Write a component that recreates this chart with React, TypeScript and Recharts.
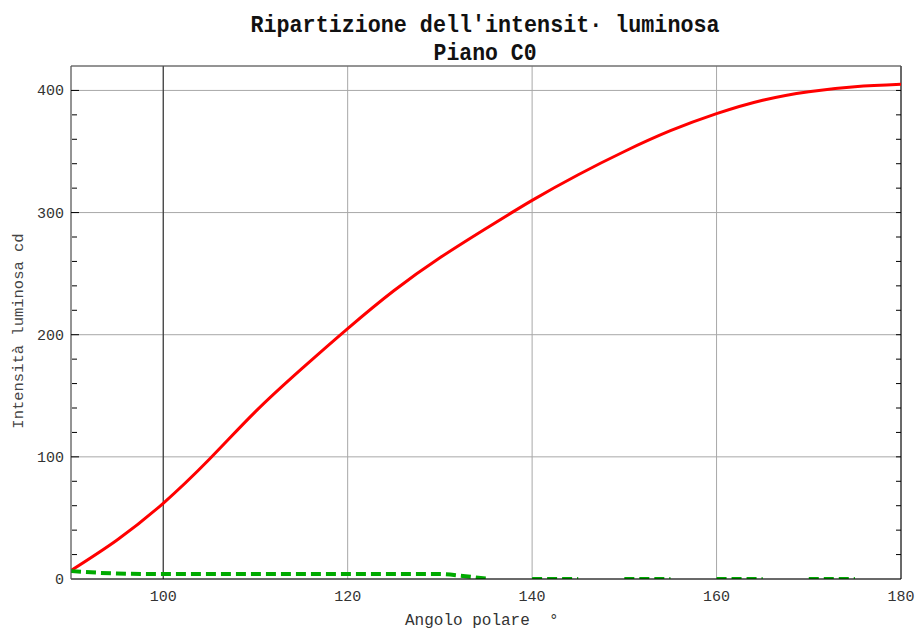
import React from 'react'
import { LineChart, Line, XAxis, YAxis, CartesianGrid, ReferenceLine } from 'recharts'

// red curve, one value every 5 degrees
const angles = [90, 95, 100, 105, 110, 115, 120, 125, 130, 135, 140, 145, 150, 155, 160, 165, 170, 175, 180]
const intensityC0 = [7, 32, 62, 98, 137, 172, 205, 236, 263, 287, 310, 331, 350, 367, 381, 392, 399, 403, 405]

// green dashed curve, nulls break the line
const greenAngles = [90, 95, 100, 105, 110, 115, 120, 125, 130, 132.5, 135, 137.5, 140, 145, 147.5, 150, 155, 157.5, 160, 165, 167.5, 170, 175]
const intensityC180 = [6.5, 4.5, 4, 4, 4, 4, 4, 4, 4, 2.5, 0.3, null, 0, 0, null, 0, 0, null, 0, 0, null, 0, 0]

const xLabelTicks = [100, 120, 140, 160, 180]
const yLabelTicks = [0, 100, 200, 300, 400]
const xMinorTicks = [95, 100, 105, 110, 115, 120, 125, 130, 135, 140, 145, 150, 155, 160, 165, 170, 175]
const xMajorTicks = [100, 120, 140, 160]
const yMinorTicks = [20, 40, 60, 80, 120, 140, 160, 180, 220, 240, 260, 280, 320, 340, 360, 380]
const yRightTicks = [20, 40, 60, 80, 100, 120, 140, 160, 180, 200, 220, 240, 260, 280, 300, 320, 340, 360, 380, 400]
const yMajorTicks = [100, 200, 300, 400]

const title1 = "Ripartizione dell'intensit\u00b7 luminosa"
const title2 = 'Piano C0'
const yTitle = 'Intensit\u00e0 luminosa cd'
const xTitle = 'Angolo polare  \u00b0'

const redData = angles.map((a, i) => ({ angle: a, v: intensityC0[i] }))
const greenData = greenAngles.map((a, i) => ({ angle: a, v: intensityC180[i] }))

const MONO = '"Liberation Mono", "DejaVu Sans Mono", monospace'
const X_DOMAIN = [90, 180]
const Y_DOMAIN = [0, 420]

const renderXTick = ({ x, y, payload }: any) => (
  <text x={x} y={y + 22} textAnchor="middle" fontFamily={MONO} fontSize={15} fill="#333">
    {payload.value}
  </text>
)

const renderYTick = ({ x, y, payload }: any) => (
  <text x={x - 7} y={y + 5} textAnchor="end" fontFamily={MONO} fontSize={15} fill="#333">
    {payload.value}
  </text>
)

const noLabel = () => <g />

// short inward tick on the right border, placed by the reference line's own coordinates
const rightTick = (p: any) => {
  const xr = Math.max(p.x1, p.x2)
  return <line x1={xr - 5} y1={p.y1} x2={xr} y2={p.y2} stroke="#000" />
}

export default function App() {
  return (
    <div style={{ position: 'absolute', left: 0, top: 0, width: 916, height: 630, background: '#fff' }}>
      <LineChart width={916} height={630} margin={{ top: 66, right: 15, bottom: 50, left: 70 }}>
        <CartesianGrid stroke="#a8a8a8" />
        <ReferenceLine x={100} stroke="#222" />
        <ReferenceLine x={180} stroke="#000" />
        {yRightTicks.map((v) => (
          <ReferenceLine key={v} y={v} shape={rightTick} />
        ))}
        <XAxis
          dataKey="angle"
          type="number"
          domain={X_DOMAIN}
          ticks={xLabelTicks}
          interval={0}
          height={1}
          tickSize={0}
          tickMargin={0}
          tickLine={false}
          axisLine={{ stroke: '#000' }}
          tick={renderXTick}
          allowDataOverflow
        />
        <XAxis xAxisId="bmin" type="number" domain={X_DOMAIN} ticks={xMinorTicks} interval={0} height={1}
          mirror tickSize={5} tick={noLabel} axisLine={false} tickLine={{ stroke: '#000' }} allowDataOverflow />
        <XAxis xAxisId="bmaj" type="number" domain={X_DOMAIN} ticks={xMajorTicks} interval={0} height={1}
          mirror tickSize={8} tick={noLabel} axisLine={false} tickLine={{ stroke: '#000' }} allowDataOverflow />
        <XAxis xAxisId="top" orientation="top" type="number" domain={X_DOMAIN} ticks={xMinorTicks} interval={0} height={1}
          mirror tickSize={5} tick={noLabel} axisLine={{ stroke: '#555' }} tickLine={{ stroke: '#000' }} allowDataOverflow />
        <YAxis
          type="number"
          domain={Y_DOMAIN}
          ticks={yLabelTicks}
          interval={0}
          width={1}
          tickSize={0}
          tickMargin={0}
          tickLine={false}
          axisLine={{ stroke: '#555' }}
          tick={renderYTick}
          allowDataOverflow
        />
        <YAxis yAxisId="lmin" type="number" domain={Y_DOMAIN} ticks={yMinorTicks} interval={0} width={1}
          mirror tickSize={5} tick={noLabel} axisLine={false} tickLine={{ stroke: '#000' }} allowDataOverflow />
        <YAxis yAxisId="lmaj" type="number" domain={Y_DOMAIN} ticks={yMajorTicks} interval={0} width={1}
          mirror tickSize={8} tick={noLabel} axisLine={false} tickLine={{ stroke: '#000' }} allowDataOverflow />
        <Line data={redData} dataKey="v" type="natural" stroke="#ff0000" strokeWidth={3} dot={false} isAnimationActive={false} />
        <Line data={greenData} dataKey="v" type="monotone" stroke="#00aa00" strokeWidth={4} strokeDasharray="10 5"
          dot={false} connectNulls={false} isAnimationActive={false} />
      </LineChart>
      <svg width={916} height={630} style={{ position: 'absolute', left: 0, top: 0, pointerEvents: 'none' }}>
        <text x={485} y={32} textAnchor="middle" fontFamily={MONO} fontWeight="bold" fontSize={24}
          textLength={469} lengthAdjust="spacingAndGlyphs" fill="#111">
          {title1}
        </text>
        <text x={485} y={60} textAnchor="middle" fontFamily={MONO} fontWeight="bold" fontSize={24}
          textLength={103} lengthAdjust="spacingAndGlyphs" fill="#111">
          {title2}
        </text>
        <text x={23} y={331} transform="rotate(-90 23 331)" textAnchor="middle" fontFamily={MONO} fontSize={15.5} fill="#444">
          {yTitle}
        </text>
        <text x={405} y={625} fontFamily={MONO} fontSize={16} fill="#333" style={{ whiteSpace: 'pre' }}>
          {xTitle}
        </text>
      </svg>
    </div>
  )
}
